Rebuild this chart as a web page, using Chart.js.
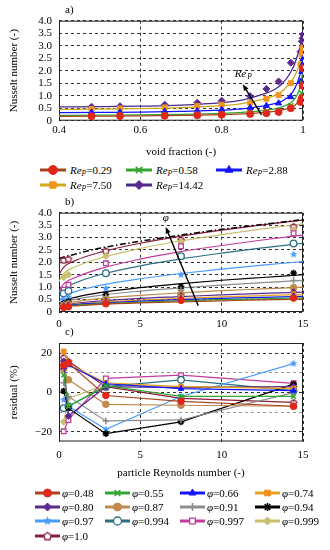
<!DOCTYPE html>
<html>
<head>
<meta charset="utf-8">
<title>Nusselt number vs void fraction and particle Reynolds number</title>
<script src="https://cdn.jsdelivr.net/npm/chart.js@4.4.1/dist/chart.umd.min.js"></script>
<style>
  body { margin: 0; width: 330px; height: 550px; position: relative; overflow: hidden; background: #fff;
         font-family: "Liberation Serif", "DejaVu Serif", serif; color: #000; }
  canvas.panel { position: absolute; left: 0; }
  .leg { position: absolute; display: flex; align-items: center; font-size: 11px; line-height: 14px; white-space: nowrap; }
  .leg i { font-style: italic; }
  .leg sub { font-size: 7.5px; font-style: italic; vertical-align: -2px; line-height: 0; }
</style>
</head>
<body>
<canvas id="chartA" class="panel" width="330" height="162" style="top:0"></canvas>
<canvas id="chartB" class="panel" width="330" height="145" style="top:192px"></canvas>
<canvas id="chartC" class="panel" width="330" height="160" style="top:325px"></canvas>
<script>
// void fractions and particle Reynolds numbers of the runs
const phiValues = [0.48, 0.55, 0.66, 0.74, 0.80, 0.87, 0.91, 0.94, 0.97, 0.994, 0.997, 0.999, 1.0];
const phiLabels = ['0.48', '0.55', '0.66', '0.74', '0.80', '0.87', '0.91', '0.94', '0.97', '0.994', '0.997', '0.999', '1.0'];
const reValues = [0.29, 0.58, 2.88, 7.50, 14.42];
const reLabels = ['0.29', '0.58', '2.88', '7.50', '14.42'];

// measured Nusselt number, one array per Re_P (entries follow phiValues)
const nuRe029 = [0.18, 0.19, 0.20, 0.22, 0.24, 0.27, 0.30, 0.35, 0.50, 0.75, 0.90, 1.40, 2.10];
const nuRe058 = [0.21, 0.22, 0.24, 0.26, 0.28, 0.32, 0.36, 0.42, 0.60, 0.85, 1.10, 1.50, 2.15];
const nuRe288 = [0.33, 0.34, 0.37, 0.40, 0.44, 0.52, 0.60, 0.70, 0.95, 1.56, 1.96, 2.25, 2.47];
const nuRe750 = [0.47, 0.49, 0.53, 0.59, 0.64, 0.72, 0.88, 1.02, 1.50, 2.25, 2.65, 2.85, 2.92];
const nuRe1442 = [0.56, 0.58, 0.64, 0.72, 0.80, 0.98, 1.27, 1.57, 2.32, 2.76, 3.17, 3.30, 3.45];
const nuByRe = [nuRe029, nuRe058, nuRe288, nuRe750, nuRe1442];

// fitted curves of panel a, read at these void fractions
const fitPhi = [0.4, 0.5, 0.6, 0.7, 0.8, 0.85, 0.9, 0.93, 0.95, 0.97, 0.98, 0.99, 0.995, 1.0];
const fitA029 = [0.17, 0.18, 0.19, 0.21, 0.24, 0.27, 0.32, 0.37, 0.43, 0.53, 0.62, 0.78, 0.88, 1.00];
const fitA058 = [0.21, 0.22, 0.23, 0.25, 0.29, 0.33, 0.40, 0.47, 0.56, 0.72, 0.88, 1.20, 1.50, 2.05];
const fitA288 = [0.32, 0.33, 0.34, 0.37, 0.42, 0.47, 0.58, 0.68, 0.80, 1.05, 1.30, 1.70, 2.00, 2.50];
const fitA750 = [0.45, 0.46, 0.48, 0.52, 0.60, 0.68, 0.85, 1.00, 1.20, 1.55, 1.80, 2.20, 2.50, 2.95];
const fitA1442 = [0.55, 0.56, 0.58, 0.62, 0.72, 0.82, 1.05, 1.25, 1.50, 1.95, 2.30, 2.80, 3.10, 3.50];
const fitByRe = [fitA029, fitA058, fitA288, fitA750, fitA1442];

// fitted curves of panel b, read at these Re_P (one row per void fraction)
const fitRe = [0, 0.25, 1, 2.5, 5, 7.5, 10, 12.5, 15];
const fitByPhi = [
  [0.16, 0.21, 0.25, 0.31, 0.37, 0.41, 0.45, 0.49, 0.52],
  [0.17, 0.22, 0.27, 0.33, 0.40, 0.45, 0.50, 0.53, 0.57],
  [0.18, 0.24, 0.30, 0.36, 0.44, 0.50, 0.55, 0.59, 0.63],
  [0.19, 0.26, 0.32, 0.40, 0.48, 0.55, 0.61, 0.66, 0.70],
  [0.20, 0.28, 0.35, 0.44, 0.55, 0.62, 0.69, 0.75, 0.80],
  [0.22, 0.32, 0.42, 0.54, 0.67, 0.77, 0.86, 0.93, 1.00],
  [0.25, 0.38, 0.51, 0.67, 0.84, 0.97, 1.08, 1.18, 1.27],
  [0.28, 0.44, 0.59, 0.78, 0.98, 1.14, 1.28, 1.39, 1.50],
  [0.40, 0.61, 0.82, 1.07, 1.34, 1.55, 1.73, 1.89, 2.03],
  [0.62, 0.90, 1.17, 1.50, 1.86, 2.14, 2.37, 2.58, 2.77],
  [0.80, 1.10, 1.39, 1.74, 2.13, 2.43, 2.68, 2.90, 3.10],
  [1.22, 1.52, 1.82, 2.17, 2.56, 2.87, 3.12, 3.35, 3.55],
  [1.50, 1.78, 2.07, 2.40, 2.77, 3.06, 3.30, 3.51, 3.70]
];
// reference correlation (dash-dot line) of panel b
const refRe = [0, 0.5, 1, 2, 3, 5, 7.5, 10, 12.5, 15];
const refNu = [2.15, 2.25, 2.33, 2.50, 2.63, 2.85, 3.10, 3.33, 3.53, 3.72];

// residuals in %, one row per void fraction, entries follow reValues
const residualByPhi = [
  [14, 15, -1.5, -4.5, -7],
  [9, -7, 3.5, -2, -2],
  [13, 14, 4.5, 2, 1],
  [21, 14.5, 5, 3, 2],
  [16, -12, 3, 2.5, 3],
  [12, 6.5, -6, -6.5, -7],
  [5, -2, -14.5, -14, 0],
  [0.8, -8, -21, -15, 4.3],
  [-3.7, -7, -18.8, -2, 14.8],
  [-8, -7, 3, 6.5, 1],
  [-19.8, -14, 7.2, 8.9, 4.7],
  [-15, -3, 4, 3, 3],
  [18, 16, 3, -3, -5]
];
const residualTicks = [-20, -10, 0, 10, 20];

const fontFamily = '"Liberation Serif", "DejaVu Serif", serif';
Chart.defaults.font.family = fontFamily;
Chart.defaults.font.size = 11;
Chart.defaults.color = '#000';

const reStyles = [
  { line: '#a8441c', marker: '#e0281a', point: 'circle' },
  { line: '#33a532', marker: '#33a532', point: 'crossRot' },
  { line: '#1414ff', marker: '#1414ff', point: 'triangle' },
  { line: '#d2a91c', marker: '#f0961e', point: 'rect' },
  { line: '#4b2a8c', marker: '#5b2a8e', point: 'rectRot' }
];
const phiStyles = [
  { line: '#a8441c', marker: '#e0281a', point: 'circle' },
  { line: '#33a532', marker: '#33a532', point: 'crossRot' },
  { line: '#1414ff', marker: '#1414ff', point: 'triangle' },
  { line: '#e6a024', marker: '#f0901a', point: 'rect' },
  { line: '#5b2a8e', marker: '#5b2a8e', point: 'rectRot' },
  { line: '#c08a4c', marker: '#c08a4c', point: 'circle' },
  { line: '#8c8c8c', marker: '#8c8c8c', point: 'cross' },
  { line: '#000000', marker: '#000000', point: 'star' },
  { line: '#4a9cff', marker: '#4a9cff', point: 'star5' },
  { line: '#2b6f82', marker: '#2b6f82', point: 'circle', open: true },
  { line: '#c23c9c', marker: '#c23c9c', point: 'rect', open: true },
  { line: '#c8c070', marker: '#c8c070', point: 'rectRot' },
  { line: '#8c1c3c', marker: '#8c1c3c', point: 'pentagon', open: true }
];

function makeStar(color, r) {
  const c = document.createElement('canvas');
  const s = Math.ceil(2 * r + 3);
  c.width = s; c.height = s;
  const g = c.getContext('2d');
  g.translate(s / 2, s / 2);
  g.beginPath();
  for (let k = 0; k < 10; k++) {
    const rr = k % 2 ? r * 0.45 : r;
    const a = -Math.PI / 2 + k * Math.PI / 5;
    if (k === 0) g.moveTo(rr * Math.cos(a), rr * Math.sin(a));
    else g.lineTo(rr * Math.cos(a), rr * Math.sin(a));
  }
  g.closePath();
  g.fillStyle = color;
  g.fill();
  return c;
}

function makePentagon(color, r) {
  const c = document.createElement('canvas');
  const s = Math.ceil(2 * r + 3);
  c.width = s; c.height = s;
  const g = c.getContext('2d');
  g.translate(s / 2, s / 2 + 0.5);
  g.beginPath();
  for (let k = 0; k < 5; k++) {
    const a = -Math.PI / 2 + k * 2 * Math.PI / 5;
    if (k === 0) g.moveTo(r * Math.cos(a), r * Math.sin(a));
    else g.lineTo(r * Math.cos(a), r * Math.sin(a));
  }
  g.closePath();
  g.fillStyle = '#fff';
  g.fill();
  g.lineWidth = 1.3;
  g.strokeStyle = color;
  g.stroke();
  return c;
}

function markerProps(s, r) {
  const lineOnly = ['cross', 'crossRot', 'star'].includes(s.point);
  let style = s.point;
  if (s.point === 'star5') style = makeStar(s.marker, r + 0.8);
  if (s.point === 'pentagon') style = makePentagon(s.marker, r);
  return {
    pointStyle: style,
    pointRadius: r,
    pointBackgroundColor: s.open ? '#ffffff' : s.marker,
    pointBorderColor: s.marker,
    pointBorderWidth: lineOnly ? 1.6 : (s.open ? 1.3 : 1)
  };
}

const gridDash = [3, 3];

function nuTick(v) {
  return v === 0 ? '0' : v.toFixed(1);
}

// frame, panel tag, arrow and arrow label
const panelNotes = {
  id: 'panelNotes',
  beforeDatasetsDraw(chart) {
    const { ctx, chartArea: a } = chart;
    ctx.save();
    ctx.strokeStyle = '#222';
    ctx.lineWidth = 1;
    ctx.strokeRect(a.left + 0.5, a.top + 0.5, a.right - a.left - 1, a.bottom - a.top - 1);
    ctx.restore();
  },
  afterDatasetsDraw(chart, args, opts) {
    const { ctx, chartArea: a, scales } = chart;
    ctx.save();
    ctx.fillStyle = '#000';
    ctx.font = '11px ' + fontFamily;
    ctx.textBaseline = 'middle';
    ctx.fillText(opts.tag, a.left + 6, a.top - 10.5);

    if (opts.arrow) {
      const x1 = scales.x.getPixelForValue(opts.arrow.from[0]);
      const y1 = scales.y.getPixelForValue(opts.arrow.from[1]);
      const x2 = scales.x.getPixelForValue(opts.arrow.to[0]);
      const y2 = scales.y.getPixelForValue(opts.arrow.to[1]);
      const ang = Math.atan2(y2 - y1, x2 - x1);
      ctx.strokeStyle = '#000';
      ctx.lineWidth = 1.4;
      ctx.beginPath();
      ctx.moveTo(x1, y1);
      ctx.lineTo(x2 - 4 * Math.cos(ang), y2 - 4 * Math.sin(ang));
      ctx.stroke();
      ctx.beginPath();
      ctx.moveTo(x2, y2);
      ctx.lineTo(x2 - 7 * Math.cos(ang - 0.38), y2 - 7 * Math.sin(ang - 0.38));
      ctx.lineTo(x2 - 7 * Math.cos(ang + 0.38), y2 - 7 * Math.sin(ang + 0.38));
      ctx.closePath();
      ctx.fill();
    }

    if (opts.label) {
      const lx = scales.x.getPixelForValue(opts.label.at[0]);
      const ly = scales.y.getPixelForValue(opts.label.at[1]);
      if (opts.label.kind === 're') {
        ctx.font = 'italic 11px ' + fontFamily;
        const w1 = ctx.measureText('Re').width;
        ctx.font = 'italic 7.5px ' + fontFamily;
        const w2 = ctx.measureText('P').width;
        const x0 = lx - (w1 + w2 + 1) / 2;
        ctx.font = 'italic 11px ' + fontFamily;
        ctx.fillText('Re', x0, ly);
        ctx.font = 'italic 7.5px ' + fontFamily;
        ctx.fillText('P', x0 + w1 + 1, ly + 2.5);
      } else {
        ctx.font = 'italic 11px ' + fontFamily;
        ctx.textAlign = 'center';
        ctx.fillText('\u03c6', lx, ly);
      }
    }
    ctx.restore();
  }
};

function makeOptions(cfg) {
  const yScale = {
    min: cfg.yMin,
    max: cfg.yMax,
    afterFit: s => { s.width = 59; },
    ticks: {
      stepSize: cfg.yStep,
      padding: 7,
      autoSkip: false,
      callback: cfg.yTick
    },
    grid: { color: cfg.yGridColor || '#333', lineWidth: 1, drawTicks: false },
    border: { display: false, dash: gridDash },
    title: { display: true, text: cfg.yTitle, font: { size: 11 }, padding: { top: 8, bottom: 0 } }
  };
  if (cfg.yTickList) {
    yScale.afterBuildTicks = s => { s.ticks = cfg.yTickList.map(v => ({ value: v })); };
  }
  return {
    responsive: false,
    animation: false,
    layout: { padding: { top: cfg.padTop, right: 27, left: 0, bottom: 0 } },
    plugins: {
      legend: { display: false },
      tooltip: { enabled: false },
      panelNotes: cfg.notes
    },
    scales: {
      x: {
        type: 'linear',
        min: cfg.xMin,
        max: cfg.xMax,
        afterFit: s => { s.height = cfg.xHeight; },
        ticks: {
          stepSize: cfg.xStep,
          padding: cfg.xTickPad,
          maxRotation: 0,
          autoSkip: false,
          callback: cfg.xTick
        },
        grid: { color: '#333', lineWidth: 1, drawTicks: false },
        border: { display: false, dash: gridDash },
        title: cfg.xTitle
          ? { display: true, text: cfg.xTitle, font: { size: 11 }, padding: { top: 0, bottom: cfg.xTitlePad } }
          : { display: false }
      },
      y: yScale
    }
  };
}

// panel a: Nusselt number against void fraction
const datasetsA = [];
reValues.forEach((re, j) => {
  const s = reStyles[j];
  datasetsA.push({
    data: fitPhi.map((x, i) => ({ x: x, y: fitByRe[j][i] })),
    borderColor: s.line,
    borderWidth: 1.3,
    pointRadius: 0,
    cubicInterpolationMode: 'monotone',
    order: 2
  });
  datasetsA.push(Object.assign({
    data: phiValues.map((x, i) => ({ x: x, y: nuByRe[j][i] })),
    showLine: false,
    order: 1
  }, markerProps(s, 3.5)));
});

new Chart(document.getElementById('chartA'), {
  type: 'line',
  data: { datasets: datasetsA },
  options: makeOptions({
    padTop: 20.7, xHeight: 41.3, xMin: 0.4, xMax: 1.0, xStep: 0.2, xTickPad: 3,
    xTick: v => String(Math.round(v * 10) / 10),
    xTitle: 'void fraction (-)', xTitlePad: 3.4,
    yMin: 0, yMax: 4, yStep: 0.5, yTick: nuTick, yTitle: 'Nusselt number (-)',
    notes: { tag: 'a)', arrow: { from: [0.898, 0.23], to: [0.852, 1.46] }, label: { at: [0.853, 1.86], kind: 're' } }
  }),
  plugins: [panelNotes]
});

// panel b: Nusselt number against particle Reynolds number
const datasetsB = [];
phiValues.forEach((phi, i) => {
  const s = phiStyles[i];
  datasetsB.push({
    data: fitRe.map((x, k) => ({ x: x, y: fitByPhi[i][k] })),
    borderColor: s.line,
    borderWidth: 1.2,
    pointRadius: 0,
    cubicInterpolationMode: 'monotone',
    order: 3
  });
  datasetsB.push(Object.assign({
    data: reValues.map((x, k) => ({ x: x, y: nuByRe[k][i] })),
    showLine: false,
    order: 1
  }, markerProps(s, 3.3)));
});
datasetsB.push({
  data: refRe.map((x, k) => ({ x: x, y: refNu[k] })),
  borderColor: '#000',
  borderWidth: 1.5,
  borderDash: [6, 2.5, 1.5, 2.5],
  pointRadius: 0,
  cubicInterpolationMode: 'monotone',
  order: 2
});

new Chart(document.getElementById('chartB'), {
  type: 'line',
  data: { datasets: datasetsB },
  options: makeOptions({
    padTop: 20.7, xHeight: 25, xMin: 0, xMax: 15, xStep: 5, xTickPad: 6,
    xTick: v => String(v),
    xTitle: null,
    yMin: 0, yMax: 4, yStep: 0.5, yTick: nuTick, yTitle: 'Nusselt number (-)',
    notes: { tag: 'b)', arrow: { from: [8.56, 0.25], to: [6.56, 3.42] }, label: { at: [6.56, 3.78], kind: 'phi' } }
  }),
  plugins: [panelNotes]
});

// panel c: residuals
const datasetsC = [];
phiValues.forEach((phi, i) => {
  const s = phiStyles[i];
  datasetsC.push(Object.assign({
    data: reValues.map((x, k) => ({ x: x, y: residualByPhi[i][k] })),
    borderColor: s.line,
    borderWidth: 1.2,
    tension: 0
  }, markerProps(s, 3.3)));
});

new Chart(document.getElementById('chartC'), {
  type: 'line',
  data: { datasets: datasetsC },
  options: makeOptions({
    padTop: 18, xHeight: 43.5, xMin: 0, xMax: 15, xStep: 5, xTickPad: 7,
    xTick: v => String(v),
    xTitle: 'particle Reynolds number (-)', xTitlePad: 5.4,
    yMin: -25, yMax: 25.3, yTickList: residualTicks,
    yTick: v => (v % 20 === 0 ? (v < 0 ? '\u2212' + Math.abs(v) : String(v)) : ''),
    yGridColor: ctx => {
      const v = ctx.tick ? ctx.tick.value : null;
      if (v === null) return 'rgba(0,0,0,0)';
      if (v % 20 === 0) return '#333';
      return '#9a9a9a';
    },
    yTitle: 'residual (%)',
    notes: { tag: 'c)' }
  }),
  plugins: [panelNotes]
});

// legends
function drawSwatch(cv, s, r) {
  const g = cv.getContext('2d');
  const mid = cv.height / 2;
  g.strokeStyle = s.line;
  g.lineWidth = 3;
  g.beginPath();
  g.moveTo(0, mid);
  g.lineTo(cv.width, mid);
  g.stroke();
  const m = markerProps(s, r);
  g.fillStyle = m.pointBackgroundColor;
  g.strokeStyle = m.pointBorderColor;
  g.lineWidth = m.pointBorderWidth;
  Chart.helpers.drawPoint(g, { pointStyle: m.pointStyle, radius: r, rotation: 0, borderWidth: m.pointBorderWidth }, cv.width / 2, mid);
}

function addLegendItem(left, centerY, width, gap, s, r, html) {
  const div = document.createElement('div');
  div.className = 'leg';
  div.style.left = left + 'px';
  div.style.top = (centerY - 7) + 'px';
  const cv = document.createElement('canvas');
  cv.width = width;
  cv.height = 14;
  cv.style.marginRight = gap + 'px';
  drawSwatch(cv, s, r);
  div.appendChild(cv);
  const sp = document.createElement('span');
  sp.innerHTML = html;
  div.appendChild(sp);
  document.body.appendChild(div);
}

const legACols = [40, 126, 216];
const legARows = [170, 185];
reLabels.forEach((lab, j) => {
  addLegendItem(legACols[j % 3], legARows[Math.floor(j / 3)], 26, 4, reStyles[j], 4.5,
    '<i>Re</i><sub>P</sub>=' + lab);
});

const legCCols = [35, 105, 180, 255];
const legCRows = [493, 507, 521, 536];
phiLabels.forEach((lab, i) => {
  addLegendItem(legCCols[i % 4], legCRows[Math.floor(i / 4)], 25, 2, phiStyles[i], 4,
    '<i>\u03c6</i>=' + lab);
});
</script>
</body>
</html>
